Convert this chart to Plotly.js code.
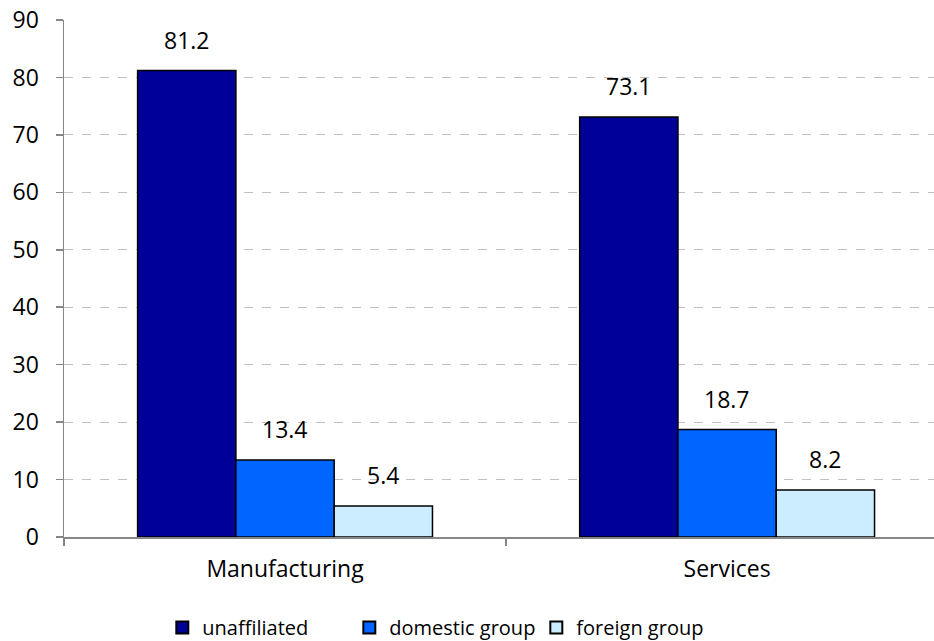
<!DOCTYPE html>
<html>
<head>
<meta charset="utf-8">
<script src="https://cdn.plot.ly/plotly-3.0.1.min.js"></script>
<style>html,body{margin:0;padding:0;background:#fff;}#chart{width:934px;height:641px;}</style>
</head>
<body>
<div id="chart"></div>
<script>
const categories = ["Manufacturing", "Services"];
const seriesNames = ["unaffiliated", "domestic group", "foreign group"];
const unaffiliated = [81.2, 73.1];
const domesticGroup = [13.4, 18.7];
const foreignGroup = [5.4, 8.2];
const yTicks = [0, 10, 20, 30, 40, 50, 60, 70, 80, 90];

const seriesValues = [unaffiliated, domesticGroup, foreignGroup];
const colors = ["#000099", "#0066FF", "#CCECFF"];
const FONT = "'Open Sans', Lato, sans-serif";
const FS = 23;
const bargap = 0.333;
const barW = (1 - bargap) / seriesValues.length;

const traces = seriesValues.map((vals, i) => ({
  type: "bar",
  name: seriesNames[i],
  x: categories,
  y: vals,
  marker: { color: colors[i], line: { color: "#000000", width: 1.5 } },
  hoverinfo: "x+y+name"
}));

const annotations = [];
seriesValues.forEach((vals, i) => {
  vals.forEach((v, j) => {
    annotations.push({
      x: j + (i - (seriesValues.length - 1) / 2) * barW,
      y: v,
      xref: "x", yref: "y",
      text: v.toFixed(1),
      showarrow: false,
      yanchor: "bottom",
      yshift: 13,
      font: { family: FONT, size: FS, color: "#000000" }
    });
  });
});

const layout = {
  width: 934, height: 641,
  margin: { l: 64, r: 0, t: 20, b: 104, autoexpand: false },
  paper_bgcolor: "#ffffff", plot_bgcolor: "#ffffff",
  barmode: "group", bargap: bargap, bargroupgap: 0,
  font: { family: FONT, size: FS, color: "#000000" },
  showlegend: true,
  legend: {
    orientation: "h", x: 0.113, xanchor: "left", y: -0.213, yanchor: "bottom",
    bgcolor: "rgba(0,0,0,0)",
    font: { family: FONT, size: 20, color: "#000000" },
    itemsizing: "constant", traceorder: "normal",
    entrywidth: 142, entrywidthmode: "pixels"
  },
  xaxis: {
    type: "category",
    range: [-0.5, 1.468],
    showline: true, linecolor: "#868686", linewidth: 1.5,
    ticks: "outside", tickson: "boundaries", ticklen: 7, tickcolor: "#868686", tickwidth: 1.5,
    ticklabelstandoff: 11,
    showgrid: false, zeroline: false,
    tickfont: { family: FONT, size: FS, color: "#000000" }
  },
  yaxis: {
    range: [0, 90],
    tickvals: yTicks,
    showline: true, linecolor: "#868686", linewidth: 1.5,
    ticks: "outside", ticklen: 7, tickcolor: "#868686", tickwidth: 1.5,
    ticklabelstandoff: 12,
    showgrid: true, gridcolor: "#c0c0c0", griddash: "dash", gridwidth: 1,
    zeroline: false,
    tickfont: { family: FONT, size: FS, color: "#000000" }
  },
  annotations: annotations
};

Plotly.newPlot("chart", traces, layout, { displayModeBar: false, staticPlot: true });
</script>
</body>
</html>
